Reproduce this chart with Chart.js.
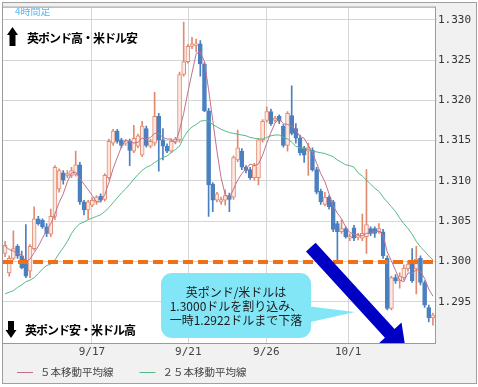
<!DOCTYPE html>
<html>
<head>
<meta charset="utf-8">
<script src="https://cdn.jsdelivr.net/npm/chart.js@4.4.1/dist/chart.umd.min.js"></script>
<style>
  html, body { margin: 0; padding: 0; background: #ffffff; }
  #wrap { width: 478px; height: 387px; }
</style>
</head>
<body>
<div id="wrap"><canvas id="fxChart" width="478" height="387"></canvas></div>
<script>
// GBP/USD 4-hour candles
const openP = [
  1.3010, 1.2986, 1.3004, 1.3019, 1.3007, 1.2997, 1.2988, 1.3016, 1.3053, 1.3051,
  1.3043, 1.3034, 1.3056, 1.3090, 1.3110, 1.3107, 1.3107, 1.3108, 1.3120, 1.3074,
  1.3064, 1.3070, 1.3074, 1.3081, 1.3077, 1.3104, 1.3147, 1.3162, 1.3151, 1.3147,
  1.3149, 1.3137, 1.3143, 1.3132, 1.3165, 1.3143, 1.3147, 1.3180, 1.3151, 1.3143,
  1.3137, 1.3148, 1.3151, 1.3232, 1.3248, 1.3267, 1.3268, 1.3270, 1.3245, 1.3187,
  1.3096, 1.3076, 1.3074, 1.3076, 1.3082, 1.3080, 1.3126, 1.3137, 1.3117, 1.3114,
  1.3104, 1.3104, 1.3151, 1.3175, 1.3186, 1.3175, 1.3180, 1.3168, 1.3144, 1.3181,
  1.3165, 1.3153, 1.3141, 1.3137, 1.3138, 1.3114, 1.3087, 1.3071, 1.3080, 1.3074,
  1.3047, 1.3037, 1.3041, 1.3029, 1.3042, 1.3030, 1.3029, 1.3031, 1.3041, 1.3041,
  1.3037, 1.3037, 1.3004, 1.2942, 1.2980, 1.2976, 1.2980, 1.2991, 1.2998, 1.2991,
  1.3004, 1.2974, 1.2943, 1.2930
];
const highP = [
  1.3025, 1.3007, 1.3038, 1.3021, 1.3013, 1.3046, 1.3021, 1.3068, 1.3056, 1.3053,
  1.3047, 1.3065, 1.3119, 1.3115, 1.3113, 1.3113, 1.3117, 1.3137, 1.3123, 1.3076,
  1.3076, 1.3079, 1.3082, 1.3084, 1.3109, 1.3152, 1.3164, 1.3164, 1.3153, 1.3151,
  1.3152, 1.3169, 1.3158, 1.3174, 1.3168, 1.3152, 1.3210, 1.3184, 1.3165, 1.3146,
  1.3152, 1.3154, 1.3235, 1.3297, 1.3269, 1.3278, 1.3276, 1.3274, 1.3247, 1.3190,
  1.3098, 1.3086, 1.3080, 1.3089, 1.3085, 1.3131, 1.3163, 1.3140, 1.3119, 1.3117,
  1.3122, 1.3153, 1.3176, 1.3192, 1.3189, 1.3180, 1.3182, 1.3170, 1.3186, 1.3218,
  1.3171, 1.3157, 1.3143, 1.3147, 1.3141, 1.3117, 1.3090, 1.3086, 1.3082, 1.3076,
  1.3050, 1.3052, 1.3043, 1.3034, 1.3045, 1.3035, 1.3059, 1.3114, 1.3043, 1.3043,
  1.3047, 1.3040, 1.3007, 1.2982, 1.2984, 1.2986, 1.2996, 1.3001, 1.3016, 1.3019,
  1.3007, 1.2976, 1.2946, 1.2936
];
const lowP = [
  1.3006, 1.2982, 1.3002, 1.3004, 1.2991, 1.2980, 1.2980, 1.3014, 1.3045, 1.3041,
  1.3031, 1.3031, 1.3052, 1.3086, 1.3096, 1.3104, 1.3104, 1.3106, 1.3071, 1.3058,
  1.3053, 1.3068, 1.3071, 1.3074, 1.3075, 1.3102, 1.3144, 1.3147, 1.3141, 1.3144,
  1.3119, 1.3135, 1.3141, 1.3130, 1.3142, 1.3141, 1.3144, 1.3112, 1.3126, 1.3135,
  1.3135, 1.3146, 1.3148, 1.3230, 1.3246, 1.3264, 1.3260, 1.3230, 1.3186, 1.3056,
  1.3062, 1.3074, 1.3071, 1.3070, 1.3062, 1.3077, 1.3124, 1.3114, 1.3110, 1.3102,
  1.3101, 1.3095, 1.3148, 1.3173, 1.3169, 1.3173, 1.3171, 1.3142, 1.3137, 1.3157,
  1.3147, 1.3132, 1.3123, 1.3107, 1.3112, 1.3084, 1.3071, 1.3069, 1.3065, 1.3037,
  1.3001, 1.3035, 1.3029, 1.3026, 1.3026, 1.3027, 1.3026, 1.3010, 1.3032, 1.3030,
  1.3035, 1.3004, 1.2940, 1.2940, 1.2973, 1.2967, 1.2977, 1.2988, 1.2974, 1.2960,
  1.2971, 1.2943, 1.2925, 1.2921
];
const closeP = [
  1.3020, 1.3004, 1.3016, 1.3007, 1.2992, 1.2982, 1.3019, 1.3053, 1.3047, 1.3043,
  1.3035, 1.3056, 1.3117, 1.3113, 1.3101, 1.3109, 1.3113, 1.3120, 1.3074, 1.3064,
  1.3074, 1.3076, 1.3080, 1.3076, 1.3107, 1.3149, 1.3162, 1.3149, 1.3144, 1.3148,
  1.3138, 1.3153, 1.3156, 1.3168, 1.3144, 1.3149, 1.3180, 1.3151, 1.3143, 1.3137,
  1.3149, 1.3152, 1.3232, 1.3248, 1.3267, 1.3270, 1.3270, 1.3245, 1.3187, 1.3095,
  1.3076, 1.3084, 1.3077, 1.3082, 1.3077, 1.3129, 1.3141, 1.3117, 1.3113, 1.3104,
  1.3119, 1.3151, 1.3174, 1.3186, 1.3171, 1.3178, 1.3174, 1.3144, 1.3184, 1.3159,
  1.3153, 1.3135, 1.3132, 1.3141, 1.3114, 1.3086, 1.3074, 1.3080, 1.3068, 1.3040,
  1.3037, 1.3041, 1.3031, 1.3031, 1.3029, 1.3032, 1.3035, 1.3046, 1.3035, 1.3035,
  1.3041, 1.3007, 1.2942, 1.2980, 1.2976, 1.2982, 1.2992, 1.2997, 1.2976, 1.3003,
  1.2974, 1.2946, 1.2930, 1.2934
];
// moving averages as drawn
const ma5 = [
  1.3019, 1.3015, 1.3013, 1.3010, 1.3008, 1.3000, 1.3003, 1.3011, 1.3019, 1.3029,
  1.3039, 1.3047, 1.3059, 1.3073, 1.3084, 1.3099, 1.3110, 1.3111, 1.3103, 1.3096,
  1.3089, 1.3082, 1.3074, 1.3074, 1.3083, 1.3098, 1.3115, 1.3129, 1.3142, 1.3151,
  1.3149, 1.3147, 1.3148, 1.3153, 1.3152, 1.3154, 1.3159, 1.3159, 1.3154, 1.3152,
  1.3152, 1.3147, 1.3163, 1.3184, 1.3210, 1.3234, 1.3258, 1.3260, 1.3248, 1.3213,
  1.3175, 1.3137, 1.3104, 1.3083, 1.3079, 1.3090, 1.3101, 1.3109, 1.3115, 1.3121,
  1.3119, 1.3121, 1.3132, 1.3147, 1.3160, 1.3172, 1.3177, 1.3171, 1.3170, 1.3168,
  1.3163, 1.3155, 1.3153, 1.3144, 1.3135, 1.3122, 1.3109, 1.3099, 1.3084, 1.3069,
  1.3060, 1.3053, 1.3043, 1.3036, 1.3034, 1.3033, 1.3032, 1.3035, 1.3035, 1.3037,
  1.3038, 1.3033, 1.3012, 1.3001, 1.2989, 1.2977, 1.2975, 1.2986, 1.2985, 1.2990,
  1.2988, 1.2979, 1.2966, 1.2957
];
const ma25 = [
  1.2960, 1.2962, 1.2964, 1.2968, 1.2971, 1.2975, 1.2977, 1.2980, 1.2985, 1.2991,
  1.2995, 1.2997, 1.3002, 1.3010, 1.3017, 1.3025, 1.3035, 1.3042, 1.3047, 1.3049,
  1.3052, 1.3054, 1.3056, 1.3058, 1.3062, 1.3067, 1.3073, 1.3079, 1.3085, 1.3090,
  1.3096, 1.3102, 1.3108, 1.3113, 1.3117, 1.3119, 1.3123, 1.3126, 1.3129, 1.3131,
  1.3135, 1.3139, 1.3143, 1.3154, 1.3162, 1.3167, 1.3170, 1.3174, 1.3175, 1.3174,
  1.3170, 1.3167, 1.3164, 1.3162, 1.3160, 1.3159, 1.3158, 1.3157, 1.3156, 1.3154,
  1.3153, 1.3152, 1.3152, 1.3154, 1.3156, 1.3157, 1.3157, 1.3154, 1.3152, 1.3148,
  1.3143, 1.3141, 1.3140, 1.3139, 1.3137, 1.3136, 1.3135, 1.3134, 1.3132, 1.3130,
  1.3126, 1.3123, 1.3120, 1.3119, 1.3117, 1.3110, 1.3106, 1.3101, 1.3096, 1.3091,
  1.3087, 1.3080, 1.3074, 1.3068, 1.3062, 1.3054, 1.3047, 1.3041, 1.3034, 1.3025,
  1.3018, 1.3013, 1.3007, 1.3002
];

// axes
const dateLabels = ['9/17', '9/21', '9/26', '10/1'];
const datePositions = [20.9, 44.1, 62.9, 82.6];   // candle index where each day starts
const yTicks = [1.295, 1.300, 1.305, 1.310, 1.315, 1.320, 1.325, 1.330];
const levelLine = 1.300;
const arrowFrom = [73.6, 1.3018];
const arrowTo = [96.5, 1.2889];

const UP_LINE = '#e28a70';
const UP_FILL = '#fde9e2';
const DOWN = '#4a80c0';
const MA5_COLOR = '#c2708e';
const MA25_COLOR = '#55bb86';
const MONO = '"DejaVu Sans Mono", monospace';
const JP = '"Noto Sans CJK JP", sans-serif';

const idx = openP.map((_, i) => i);
const isUp = idx.map(i => closeP[i] >= openP[i]);

function blockArrow(ctx, x0, y0, x1, y1, shaftW, headW, headL) {
    const len = Math.hypot(x1 - x0, y1 - y0);
    const ux = (x1 - x0) / len, uy = (y1 - y0) / len;
    const px = -uy, py = ux;
    const bx = x1 - ux * headL, by = y1 - uy * headL;
    ctx.beginPath();
    ctx.moveTo(x0 + px * shaftW, y0 + py * shaftW);
    ctx.lineTo(bx + px * shaftW, by + py * shaftW);
    ctx.lineTo(bx + px * headW, by + py * headW);
    ctx.lineTo(x1, y1);
    ctx.lineTo(bx - px * headW, by - py * headW);
    ctx.lineTo(bx - px * shaftW, by - py * shaftW);
    ctx.lineTo(x0 - px * shaftW, y0 - py * shaftW);
    ctx.closePath();
    ctx.fill();
}

// background, frame and plot border
const framePlugin = {
    id: 'frame',
    beforeDraw(chart) {
        const { ctx, chartArea: a } = chart;
        ctx.save();
        ctx.fillStyle = '#f1f1f1';
        ctx.fillRect(2, 2, 475, 382);
        ctx.fillStyle = '#ffffff';
        ctx.fillRect(a.left, a.top, a.right - a.left, a.bottom - a.top);
        ctx.restore();
    },
    afterDraw(chart) {
        const { ctx, chartArea: a } = chart;
        ctx.save();
        ctx.strokeStyle = '#a0a0a0';
        ctx.lineWidth = 1;
        ctx.strokeRect(2.5, 2.5, 474, 381);
        ctx.strokeStyle = '#9a9a9a';
        ctx.strokeRect(a.left - 0.5, a.top - 0.5, a.right - a.left + 1, a.bottom - a.top + 1);

        // legend for the two moving averages
        ctx.font = '10.5px ' + JP;
        ctx.textBaseline = 'middle';
        ctx.textAlign = 'left';
        let lx = 17;
        const ly = 372.5;
        chart.data.datasets.filter(d => d.type === 'line').forEach(d => {
            ctx.strokeStyle = d.borderColor;
            ctx.lineWidth = 1;
            ctx.beginPath();
            ctx.moveTo(lx, ly);
            ctx.lineTo(lx + 16, ly);
            ctx.stroke();
            ctx.fillStyle = '#444444';
            ctx.fillText(d.label, lx + 23, ly);
            lx += 23 + ctx.measureText(d.label).width + 26;
        });
        ctx.restore();
    }
};

// dashed level line, arrows, callout and captions
const notesPlugin = {
    id: 'notes',
    afterDatasetsDraw(chart) {
        const { ctx, chartArea: a, scales: { x, y } } = chart;
        ctx.save();
        ctx.beginPath();
        ctx.rect(a.left, a.top, a.right - a.left, a.bottom - a.top);
        ctx.clip();

        const yl = Math.round(y.getPixelForValue(levelLine));
        ctx.strokeStyle = '#f07018';
        ctx.lineWidth = 4;
        ctx.setLineDash([10, 5]);
        ctx.beginPath();
        ctx.moveTo(a.left, yl);
        ctx.lineTo(a.right, yl);
        ctx.stroke();
        ctx.setLineDash([]);

        ctx.fillStyle = '#0000c4';
        blockArrow(ctx,
            x.getPixelForValue(arrowFrom[0]), y.getPixelForValue(arrowFrom[1]),
            x.getPixelForValue(arrowTo[0]), y.getPixelForValue(arrowTo[1]),
            6.5, 16, 24);

        // callout bubble
        ctx.fillStyle = '#82e6f6';
        ctx.beginPath();
        ctx.roundRect(161, 273, 150, 65, 11);
        ctx.fill();
        ctx.beginPath();
        ctx.moveTo(306, 306);
        ctx.lineTo(355, 312);
        ctx.lineTo(306, 323);
        ctx.closePath();
        ctx.fill();

        ctx.fillStyle = '#1c1c1c';
        ctx.font = '12px ' + JP;
        ctx.textAlign = 'center';
        ctx.textBaseline = 'middle';
        ctx.fillText('英ポンド/米ドルは', 236, 292);
        ctx.fillText('1.3000ドルを割り込み、', 236, 306);
        ctx.fillText('一時1.2922ドルまで下落', 236, 320);

        // captions
        ctx.textAlign = 'left';
        ctx.fillStyle = '#5cb8ea';
        ctx.font = '10px ' + JP;
        ctx.fillText('4時間足', 15, 11.5);

        ctx.fillStyle = '#000000';
        ctx.beginPath();
        ctx.moveTo(12.5, 27); ctx.lineTo(18, 35); ctx.lineTo(15.5, 35); ctx.lineTo(15.5, 46);
        ctx.lineTo(9.5, 46); ctx.lineTo(9.5, 35); ctx.lineTo(7, 35); ctx.closePath();
        ctx.fill();
        ctx.beginPath();
        ctx.moveTo(8, 321); ctx.lineTo(14, 321); ctx.lineTo(14, 330); ctx.lineTo(16.5, 330);
        ctx.lineTo(11, 338); ctx.lineTo(5.5, 330); ctx.lineTo(8, 330); ctx.closePath();
        ctx.fill();

        ctx.font = 'bold 12px ' + JP;
        ctx.letterSpacing = '-1px';
        ctx.fillText('英ポンド高・米ドル安', 27, 38);
        ctx.fillText('英ポンド安・米ドル高', 25, 330);
        ctx.restore();
    }
};

new Chart(document.getElementById('fxChart'), {
    type: 'bar',
    data: {
        datasets: [{
            type: 'line',
            label: '５本移動平均線',
            data: idx.map(i => ({ x: i, y: ma5[i] })),
            borderColor: MA5_COLOR,
            borderWidth: 1,
            pointRadius: 0,
            tension: 0,
            order: 1
        }, {
            type: 'line',
            label: '２５本移動平均線',
            data: idx.map(i => ({ x: i, y: ma25[i] })),
            borderColor: MA25_COLOR,
            borderWidth: 1,
            pointRadius: 0,
            tension: 0,
            order: 1
        }, {
            type: 'bar',
            label: 'body',
            data: idx.map(i => ({ x: i, y: [openP[i], closeP[i]] })),
            backgroundColor: isUp.map(u => u ? UP_FILL : DOWN),
            borderColor: isUp.map(u => u ? UP_LINE : DOWN),
            borderWidth: 1,
            borderSkipped: false,
            grouped: false,
            categoryPercentage: 1,
            barPercentage: 1,
            maxBarThickness: 4,
            minBarLength: 1,
            order: 2
        }, {
            type: 'bar',
            label: 'wick',
            data: idx.map(i => ({ x: i, y: [lowP[i], highP[i]] })),
            backgroundColor: isUp.map(u => u ? UP_LINE : DOWN),
            borderWidth: 0,
            grouped: false,
            categoryPercentage: 1,
            barPercentage: 1,
            maxBarThickness: 1,
            order: 3
        }]
    },
    options: {
        responsive: false,
        animation: false,
        layout: { padding: { left: 3, top: 3, right: 2, bottom: 0 } },
        plugins: {
            legend: { display: false },
            tooltip: { enabled: false }
        },
        scales: {
            x: {
                type: 'linear',
                min: -0.5,
                max: 103.5,
                offset: false,
                grid: { color: '#d6d6d6', drawTicks: false, offset: false },
                border: { display: false },
                ticks: {
                    autoSkip: false,
                    maxRotation: 0,
                    padding: 3,
                    color: '#444444',
                    font: { family: MONO, size: 11 },
                    callback: (v, i) => dateLabels[i]
                },
                afterBuildTicks: s => { s.ticks = datePositions.map(v => ({ value: v })); },
                afterFit: s => { s.height = 44; }
            },
            y: {
                position: 'right',
                min: 1.2899,
                max: 1.3315,
                grid: { color: '#d6d6d6', tickLength: 2 },
                border: { display: false },
                ticks: {
                    padding: 1,
                    color: '#333333',
                    font: { family: MONO, size: 11 },
                    callback: v => v.toFixed(3)
                },
                afterBuildTicks: s => { s.ticks = yTicks.map(v => ({ value: v })); },
                afterFit: s => { s.width = 41; }
            }
        }
    },
    plugins: [framePlugin, notesPlugin]
});
</script>
</body>
</html>
